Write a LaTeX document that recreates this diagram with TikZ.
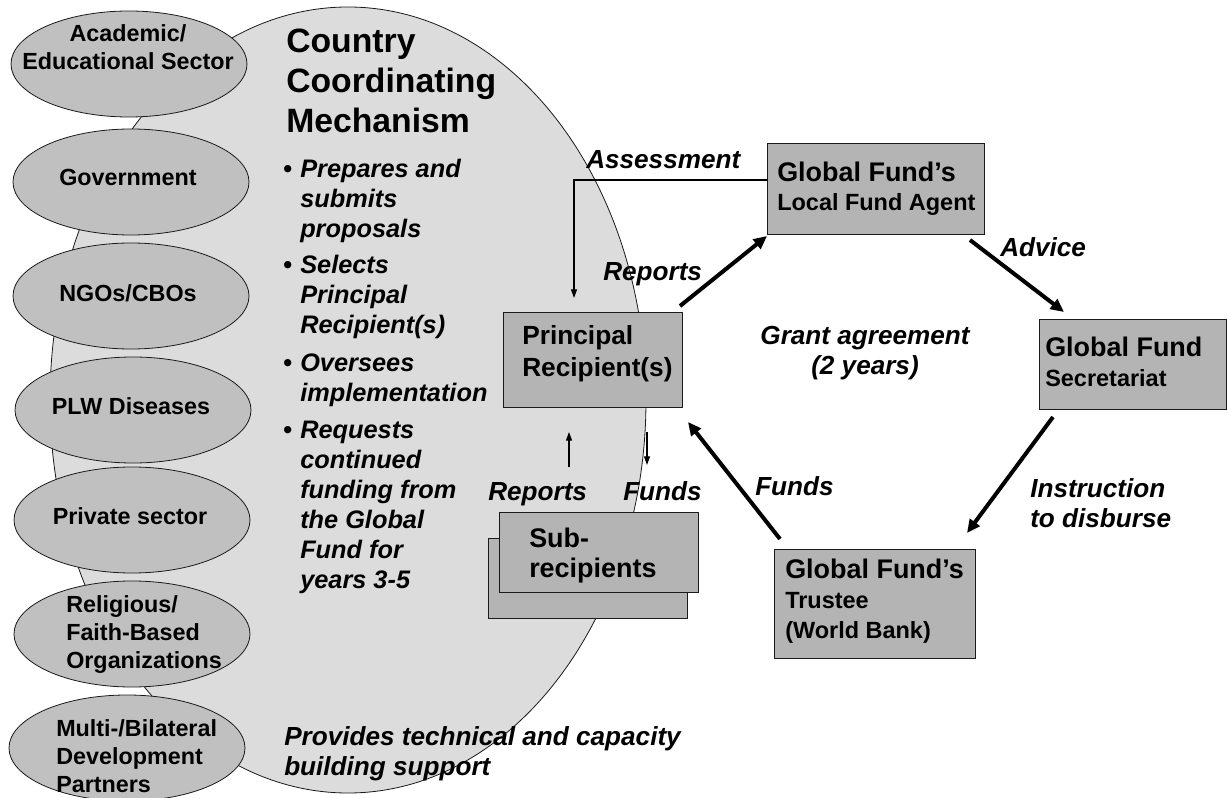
\documentclass[tikz,border=0pt]{standalone}
\usepackage{fontspec}
\setmainfont{Liberation Sans}
\usetikzlibrary{shapes.geometric,arrows.meta}
\definecolor{ccmfill}{HTML}{DCDCDC}
\definecolor{ellfill}{HTML}{C0C0C0}
\definecolor{boxfill}{HTML}{B4B4B4}
\definecolor{edge}{HTML}{1A1A1A}
\newcommand{\mlL}[1]{\begin{tabular}[t]{@{}l@{}}#1\end{tabular}}
\newcommand{\mlC}[1]{\begin{tabular}[t]{@{}c@{}}#1\end{tabular}}
\newcommand{\smallline}{\fontsize{17.6}{20}\selectfont}
\tikzset{
  ccmshape/.style={ellipse, draw=edge, line width=0.6pt, fill=ccmfill, inner sep=0pt,
    minimum width=447pt, minimum height=589.5pt},
  member/.style={ellipse, draw=edge, line width=0.6pt, fill=ellfill, inner sep=0pt,
    minimum width=177pt, minimum height=79.5pt},
  gbox/.style={rectangle, draw=edge, line width=0.75pt, fill=boxfill, inner sep=0pt, anchor=north west},
  memtext/.style={inner sep=0pt, font=\fontsize{17.5}{21}\selectfont\bfseries},
  titletext/.style={inner sep=0pt, anchor=base west, font=\fontsize{25.3}{30}\selectfont\bfseries},
  bullettext/.style={inner sep=0pt, anchor=base west, font=\fontsize{19}{22.5}\selectfont\bfseries\itshape},
  boxtext/.style={inner sep=0pt, anchor=base west, font=\fontsize{20.2}{22.5}\selectfont\bfseries},
  lbl/.style={inner sep=0pt, anchor=base west, font=\fontsize{19.6}{22.5}\selectfont\bfseries\itshape},
  thick arrow/.style={line width=3pt, -{Triangle[length=10pt,width=9pt]}},
  thin arrow/.style={line width=0.9pt, -{Triangle[length=6.5pt,width=4.5pt]}},
}
\begin{document}
\begin{tikzpicture}[x=0.75pt,y=-0.75pt]
\useasboundingbox (0,0) rectangle (1228,798);

% Country Coordinating Mechanism
\node[ccmshape] (ccm) at (348,400) {};

% member ellipses
\node[member] (acad) at (129,64) {};
\node[member] (gov) at (131,182) {};
\node[member] (ngo) at (131,296) {};
\node[member] (plw) at (133,410) {};
\node[member] (priv) at (132,520) {};
\node[member] (rel) at (132,634) {};
\node[member] (multi) at (127,748) {};

\node[memtext, anchor=base] (acadT) at (128,42) {\mlC{Academic/\\Educational Sector}};
\node[memtext, anchor=base] (govT) at (128,186) {Government};
\node[memtext, anchor=base] (ngoT) at (128,302) {NGOs/CBOs};
\node[memtext, anchor=base] (plwT) at (131,415) {PLW Diseases};
\node[memtext, anchor=base] (privT) at (130,524) {Private sector};
\node[memtext, anchor=base west] (relT) at (66,612) {\mlL{Religious/\\Faith-Based\\Organizations}};
\node[memtext, anchor=base west] (multiT) at (56,736) {\mlL{Multi-/Bilateral\\Development\\Partners}};

% title and duties
\node[titletext] (title) at (286,53) {\mlL{Country\\Coordinating\\Mechanism}};
\node[bullettext] (b1) at (283,178) {\makebox[12.75pt][l]{\upshape\textbullet}\mlL{Prepares and\\submits\\proposals}};
\node[bullettext] (b2) at (283,274) {\makebox[12.75pt][l]{\upshape\textbullet}\mlL{Selects\\Principal\\Recipient(s)}};
\node[bullettext] (b3) at (283,372) {\makebox[12.75pt][l]{\upshape\textbullet}\mlL{Oversees\\implementation}};
\node[bullettext] (b4) at (283,439) {\makebox[12.75pt][l]{\upshape\textbullet}\mlL{Requests\\continued\\funding from\\the Global\\Fund for\\years 3-5}};
\node[lbl] (prov) at (284,745) {\mlL{Provides technical and capacity\\building support}};

% boxes
\node[gbox, minimum width=134.25pt, minimum height=71.25pt] (pr) at (503,312) {};
\node[boxtext, font=\fontsize{19.7}{24}\selectfont\bfseries] (prT) at (522,345) {\mlL{Principal\\Recipient(s)}};

\node[gbox, minimum width=149.25pt, minimum height=60pt] (subB) at (488,538) {};
\node[gbox, minimum width=149.25pt, minimum height=60pt] (subF) at (499,512) {};
\node[boxtext] (subT) at (529,547) {\mlL{Sub-\\recipients}};

\node[gbox, minimum width=162.75pt, minimum height=68.25pt] (lfa) at (767,143) {};
\node[boxtext, font=\fontsize{20.2}{21.75}\selectfont\bfseries] (lfaT) at (777,182) {\mlL{Global Fund’s\\{\smallline Local Fund Agent}}};

\node[gbox, minimum width=140.25pt, minimum height=67.5pt] (sec) at (1039,319) {};
\node[boxtext] (secT) at (1045,357) {\mlL{Global Fund\\{\smallline Secretariat}}};

\node[gbox, minimum width=150.75pt, minimum height=81.75pt] (tru) at (774,549) {};
\node[boxtext] (truT) at (785,578) {\mlL{Global Fund’s\\{\smallline Trustee}\\{\smallline (World Bank)}}};

% connector ends
\coordinate (repA) at (680,306);
\coordinate (repB) at (767,236);
\coordinate (advA) at (970,240);
\coordinate (advB) at (1064,312);
\coordinate (insA) at (1053,417);
\coordinate (insB) at (967,533);
\coordinate (funA) at (780,539);
\coordinate (funB) at (688,422);
\coordinate (assA) at (767,180);
\coordinate (assB) at (574,298);
\coordinate (srA) at (569,467);
\coordinate (srB) at (569,432);
\coordinate (sfA) at (647,432);
\coordinate (sfB) at (647,465);

\draw[thick arrow] (repA) -- (repB);
\draw[thick arrow] (advA) -- (advB);
\draw[thick arrow] (insA) -- (insB);
\draw[thick arrow] (funA) -- (funB);
\draw[thin arrow, line width=0.8pt] (assA) -| (assB);
\draw[thin arrow] (srA) -- (srB);
\draw[thin arrow] (sfA) -- (sfB);

% labels
\node[lbl] (assL) at (586,169) {Assessment};
\node[lbl] (repL) at (603,281) {Reports};
\node[lbl] (advL) at (1000,257) {Advice};
\node[lbl, anchor=base] (grantL) at (865,345) {\mlC{Grant agreement\\(2 years)}};
\node[lbl] (rep2L) at (488,500) {Reports};
\node[lbl] (fun2L) at (623,500) {Funds};
\node[lbl] (funL) at (755,495) {Funds};
\node[lbl] (insL) at (1030,497) {\mlL{Instruction\\to disburse}};
\end{tikzpicture}
\end{document}
